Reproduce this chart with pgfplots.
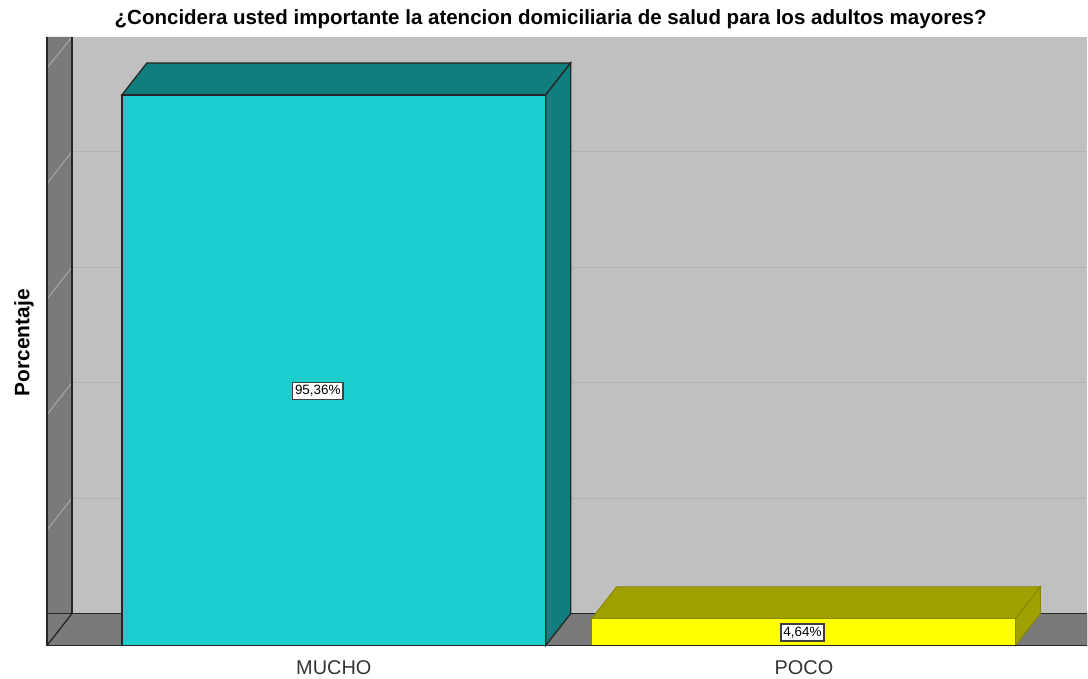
\documentclass[border=0pt]{standalone}
\usepackage{pgfplots}
\pgfplotsset{compat=1.18}
\usepackage{fontspec}
\setmainfont{Liberation Sans}
\definecolor{wall}{HTML}{C0C0C0}
\definecolor{side}{HTML}{7A7A7A}
\definecolor{teala}{HTML}{1CCDCD}
\definecolor{tealb}{HTML}{127D7D}
\definecolor{yela}{HTML}{FFFF00}
\definecolor{yelb}{HTML}{A0A000}
\definecolor{gridc}{HTML}{B0B0B0}
\definecolor{gridl}{HTML}{A8A8A8}
\begin{document}
\begin{tikzpicture}
\begin{axis}[
  x=1bp, y=5.778bp,
  xmin=47, xmax=1088, ymin=0, ymax=105.4,
  clip=false,
  axis line style={draw=none},
  major tick length=0pt,
  ytick=\empty,
  xtick={334,804.5},
  xticklabels={MUCHO,POCO},
  xticklabel style={anchor=center, yshift=-22bp, font=\fontsize{20}{22}\selectfont, text=black!80},
]
\path (axis cs:0,-5.71) rectangle (axis cs:1088,111.8);
% back wall
\addplot[fill=wall, draw=none] coordinates {(72,5.54) (1088,5.54) (1088,105.4) (72,105.4)} -- cycle;
% left wall
\addplot[fill=side, draw=none] coordinates {(47,0) (47,105.4) (72,105.4) (72,5.54)} -- cycle;
% floor
\addplot[fill=side, draw=none] coordinates {(47,0) (72,5.54) (1088,5.54) (1088,0)} -- cycle;
% grid lines back wall
\addplot[gridc, line width=1.2bp] coordinates {(72,25.54) (1088,25.54)};
\addplot[gridc, line width=1.2bp] coordinates {(72,45.54) (1088,45.54)};
\addplot[gridc, line width=1.2bp] coordinates {(72,65.54) (1088,65.54)};
\addplot[gridc, line width=1.2bp] coordinates {(72,85.54) (1088,85.54)};
% grid lines left wall
\addplot[gridl, line width=1bp] coordinates {(47,20) (72,25.54)};
\addplot[gridl, line width=1bp] coordinates {(47,40) (72,45.54)};
\addplot[gridl, line width=1bp] coordinates {(47,60) (72,65.54)};
\addplot[gridl, line width=1bp] coordinates {(47,80) (72,85.54)};
\addplot[gridl, line width=1bp] coordinates {(47,100) (72,105.4)};
% wall edges
\addplot[black!85, line width=1.3bp] coordinates {(72,105.4) (72,5.54) (1088,5.54)};
\addplot[black!85, line width=1.3bp] coordinates {(47,5.54) (72,5.54)};
\addplot[black!85, line width=1.3bp] coordinates {(47,105.4) (47,0) (1088,0)};
\addplot[black!85, line width=1.3bp] coordinates {(47,0) (72,5.54)};
% MUCHO bar
\addplot[fill=tealb, draw=black!85, line width=1.3bp] coordinates {(122,95.36) (147,100.90) (571,100.90) (546,95.36)} -- cycle;
\addplot[fill=tealb, draw=black!85, line width=1.3bp] coordinates {(546,0) (571,5.54) (571,100.90) (546,95.36)} -- cycle;
\addplot[ybar, bar width=424, bar shift=0pt, fill=teala, draw=black!85, line width=1.3bp] coordinates {(334,95.36)};
% POCO bar
\addplot[fill=yelb, draw=yelb!85!black, line width=1bp] coordinates {(592,4.64) (617,10.18) (1041,10.18) (1016,4.64)} -- cycle;
\addplot[fill=yelb, draw=yelb!85!black, line width=1bp] coordinates {(1016,0) (1041,5.54) (1041,10.18) (1016,4.64)} -- cycle;
\addplot[ybar, bar width=424, bar shift=0pt, fill=yela, draw=yelb!85!black, line width=1bp] coordinates {(804,4.64)};
\addplot[black!85, line width=1.3bp] coordinates {(547,0) (1088,0)};
% value labels
\node[draw=black!75, fill=white, line width=1.4bp, inner xsep=2.5bp, inner ysep=3bp, font=\fontsize{13.5}{15}\selectfont] at (axis cs:318,44.13) {95,36\%};
\node[draw=black!75, fill=white, line width=1.4bp, inner xsep=2.5bp, inner ysep=3bp, font=\fontsize{13.5}{15}\selectfont] at (axis cs:803,2.25) {4,64\%};
% title and y label
\node[font=\bfseries\fontsize{20.6}{22}\selectfont] at (axis cs:551,108.4) {¿Concidera usted importante la atencion domiciliaria de salud para los adultos mayores?};
\node[rotate=90, font=\bfseries\fontsize{21}{23}\selectfont] at (axis cs:24,52.44) {Porcentaje};
\end{axis}
\end{tikzpicture}
\end{document}
